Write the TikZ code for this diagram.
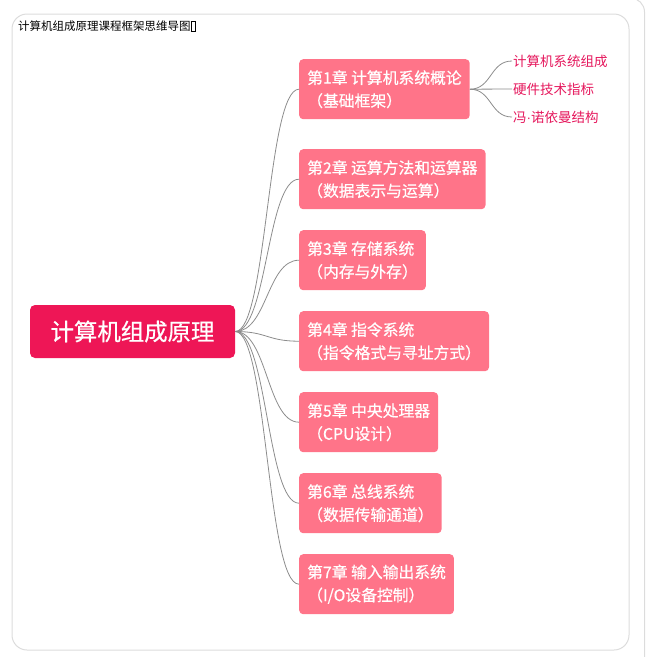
\documentclass[tikz,border=0pt]{standalone}
\usepackage{fontspec}
\setmainfont{Noto Sans CJK SC}
\newfontfamily\boxfont[FakeBold=0.6]{Noto Sans CJK SC}
\newfontfamily\dotfont{Liberation Sans}
\usepackage{tikz}

\definecolor{rootred}{HTML}{EE1656}
\definecolor{chappink}{HTML}{FF7489}
\definecolor{leafred}{HTML}{E5175C}
\definecolor{linegray}{HTML}{8C8C8C}
\definecolor{framegray}{HTML}{DCDCDC}

\tikzset{
	rootbox/.style={fill=rootred, text=white, rounded corners=5pt, minimum width=205pt, minimum height=53pt, inner sep=0pt, font=\boxfont\fontsize{23.4}{26}\selectfont},
	chapbox/.style={fill=chappink, text=white, rounded corners=4pt, anchor=north west, align=left, minimum height=60pt, inner xsep=8pt, inner ysep=0pt, font=\boxfont\fontsize{15.8}{23}\selectfont},
	leaftext/.style={text=leafred, anchor=west, inner sep=1pt, font=\fontsize{13.5}{16}\selectfont},
	link/.style={draw=linegray, line width=0.8pt},
}
\newcommand{\tofubox}{{\setlength{\fboxsep}{0pt}\setlength{\fboxrule}{0.5pt}\raisebox{-0.05em}{\framebox[0.42em]{\rule{0pt}{0.78em}}}}}

\begin{document}
\begin{tikzpicture}[x=1pt, y=-1pt]
	\useasboundingbox (0,0) rectangle (649,657);
	% frames
	\draw[framegray, line width=1pt, rounded corners=15pt] (12,14) rectangle (629,650);
	\draw[framegray, line width=1pt, rounded corners=14pt] (644.5,660) -- (644.5,-2) -- (600,-2);
	\node[anchor=west, inner sep=0pt, font=\fontsize{11.5}{13}\selectfont] (title) at (18,26) {计算机组成原理课程框架思维导图\tofubox};
	
	% root and chapters
	\node[rootbox] (root) at (132.5,331.5) {计算机组成原理};
	\node[chapbox] (ch1) at (299,59) {第1章 计算机系统概论\\（基础框架）};
	\node[chapbox] (ch2) at (299,149) {第2章 运算方法和运算器\\（数据表示与运算）};
	\node[chapbox] (ch3) at (299,230) {第3章 存储系统\\（内存与外存）};
	\node[chapbox] (ch4) at (299,311) {第4章 指令系统\\（指令格式与寻址方式）};
	\node[chapbox] (ch5) at (299,392) {第5章 中央处理器\\（CPU设计）};
	\node[chapbox] (ch6) at (299,473) {第6章 总线系统\\（数据传输通道）};
	\node[chapbox] (ch7) at (299,554) {第7章 输入输出系统\\（I/O设备控制）};
	
	% leaves of chapter 1
	\node[leaftext] (l1) at (512,61) {计算机系统组成};
	\node[leaftext] (l2) at (512,89) {硬件技术指标};
	\node[leaftext] (l3) at (512,117) {冯{\dotfont ·}诺依曼结构};
	
	\foreach \c in {1,...,7} {
		\draw[link] (root.east) .. controls +(32,0) and +(-32,0) .. (ch\c.west);
	}
	\foreach \l in {1,2,3} {
		\draw[link] (ch1.east) .. controls +(22,0) and +(-22,0) .. (l\l.west);
	}
\end{tikzpicture}
\end{document}
